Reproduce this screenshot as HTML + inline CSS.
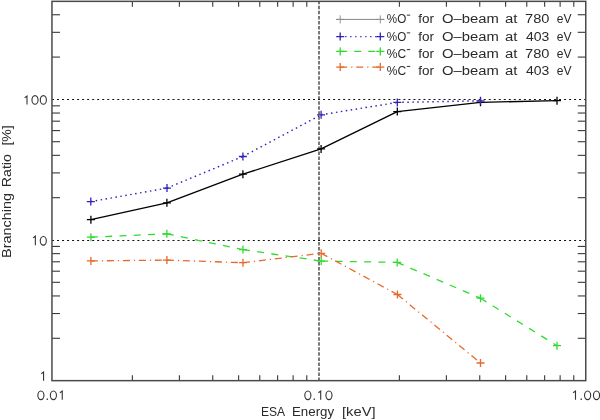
<!DOCTYPE html><html><head><meta charset="utf-8"><style>html,body{margin:0;padding:0;background:#fff;overflow:hidden}svg{display:block;will-change:transform}text{font-family:"Liberation Sans",sans-serif;fill:#2a2a2a}</style></head><body>
<svg width="600" height="420" viewBox="0 0 600 420">
<rect width="600" height="420" fill="#fff"/>
<g stroke="#111" stroke-width="1.15" stroke-dasharray="2 3.02" fill="none">
<line x1="52.00" y1="99.50" x2="585.75" y2="99.50"/>
<line x1="52.00" y1="240.50" x2="585.75" y2="240.50"/>
<line x1="319.00" y1="1.35" x2="319.00" y2="380.65" stroke-dasharray="3.5 1.522" stroke-dashoffset="0.52" stroke="#222" stroke-width="1.2"/>
</g>
<g stroke="#383838" stroke-width="1.1" fill="none">
<line x1="132.38" y1="380.65" x2="132.38" y2="375.15"/>
<line x1="132.38" y1="1.35" x2="132.38" y2="6.85"/>
<line x1="179.39" y1="380.65" x2="179.39" y2="375.15"/>
<line x1="179.39" y1="1.35" x2="179.39" y2="6.85"/>
<line x1="212.75" y1="380.65" x2="212.75" y2="375.15"/>
<line x1="212.75" y1="1.35" x2="212.75" y2="6.85"/>
<line x1="238.62" y1="380.65" x2="238.62" y2="375.15"/>
<line x1="238.62" y1="1.35" x2="238.62" y2="6.85"/>
<line x1="259.77" y1="380.65" x2="259.77" y2="375.15"/>
<line x1="259.77" y1="1.35" x2="259.77" y2="6.85"/>
<line x1="277.64" y1="380.65" x2="277.64" y2="375.15"/>
<line x1="277.64" y1="1.35" x2="277.64" y2="6.85"/>
<line x1="293.13" y1="380.65" x2="293.13" y2="375.15"/>
<line x1="293.13" y1="1.35" x2="293.13" y2="6.85"/>
<line x1="306.78" y1="380.65" x2="306.78" y2="375.15"/>
<line x1="306.78" y1="1.35" x2="306.78" y2="6.85"/>
<line x1="399.38" y1="380.65" x2="399.38" y2="375.15"/>
<line x1="399.38" y1="1.35" x2="399.38" y2="6.85"/>
<line x1="446.39" y1="380.65" x2="446.39" y2="375.15"/>
<line x1="446.39" y1="1.35" x2="446.39" y2="6.85"/>
<line x1="479.75" y1="380.65" x2="479.75" y2="375.15"/>
<line x1="479.75" y1="1.35" x2="479.75" y2="6.85"/>
<line x1="505.62" y1="380.65" x2="505.62" y2="375.15"/>
<line x1="505.62" y1="1.35" x2="505.62" y2="6.85"/>
<line x1="526.77" y1="380.65" x2="526.77" y2="375.15"/>
<line x1="526.77" y1="1.35" x2="526.77" y2="6.85"/>
<line x1="544.64" y1="380.65" x2="544.64" y2="375.15"/>
<line x1="544.64" y1="1.35" x2="544.64" y2="6.85"/>
<line x1="560.13" y1="380.65" x2="560.13" y2="375.15"/>
<line x1="560.13" y1="1.35" x2="560.13" y2="6.85"/>
<line x1="573.78" y1="380.65" x2="573.78" y2="375.15"/>
<line x1="573.78" y1="1.35" x2="573.78" y2="6.85"/>
<line x1="51.95" y1="338.28" x2="59.95" y2="338.28"/>
<line x1="585.75" y1="338.28" x2="577.75" y2="338.28"/>
<line x1="51.95" y1="313.52" x2="59.95" y2="313.52"/>
<line x1="585.75" y1="313.52" x2="577.75" y2="313.52"/>
<line x1="51.95" y1="295.95" x2="59.95" y2="295.95"/>
<line x1="585.75" y1="295.95" x2="577.75" y2="295.95"/>
<line x1="51.95" y1="282.32" x2="59.95" y2="282.32"/>
<line x1="585.75" y1="282.32" x2="577.75" y2="282.32"/>
<line x1="51.95" y1="271.19" x2="59.95" y2="271.19"/>
<line x1="585.75" y1="271.19" x2="577.75" y2="271.19"/>
<line x1="51.95" y1="261.78" x2="59.95" y2="261.78"/>
<line x1="585.75" y1="261.78" x2="577.75" y2="261.78"/>
<line x1="51.95" y1="253.63" x2="59.95" y2="253.63"/>
<line x1="585.75" y1="253.63" x2="577.75" y2="253.63"/>
<line x1="51.95" y1="246.43" x2="59.95" y2="246.43"/>
<line x1="585.75" y1="246.43" x2="577.75" y2="246.43"/>
<line x1="51.95" y1="197.68" x2="59.95" y2="197.68"/>
<line x1="585.75" y1="197.68" x2="577.75" y2="197.68"/>
<line x1="51.95" y1="172.92" x2="59.95" y2="172.92"/>
<line x1="585.75" y1="172.92" x2="577.75" y2="172.92"/>
<line x1="51.95" y1="155.35" x2="59.95" y2="155.35"/>
<line x1="585.75" y1="155.35" x2="577.75" y2="155.35"/>
<line x1="51.95" y1="141.72" x2="59.95" y2="141.72"/>
<line x1="585.75" y1="141.72" x2="577.75" y2="141.72"/>
<line x1="51.95" y1="130.59" x2="59.95" y2="130.59"/>
<line x1="585.75" y1="130.59" x2="577.75" y2="130.59"/>
<line x1="51.95" y1="121.18" x2="59.95" y2="121.18"/>
<line x1="585.75" y1="121.18" x2="577.75" y2="121.18"/>
<line x1="51.95" y1="113.03" x2="59.95" y2="113.03"/>
<line x1="585.75" y1="113.03" x2="577.75" y2="113.03"/>
<line x1="51.95" y1="105.83" x2="59.95" y2="105.83"/>
<line x1="585.75" y1="105.83" x2="577.75" y2="105.83"/>
<line x1="51.95" y1="57.08" x2="59.95" y2="57.08"/>
<line x1="585.75" y1="57.08" x2="577.75" y2="57.08"/>
<line x1="51.95" y1="32.32" x2="59.95" y2="32.32"/>
<line x1="585.75" y1="32.32" x2="577.75" y2="32.32"/>
<line x1="51.95" y1="14.75" x2="59.95" y2="14.75"/>
<line x1="585.75" y1="14.75" x2="577.75" y2="14.75"/>
</g>
<rect x="51.95" y="1.35" width="533.80" height="379.30" fill="none" stroke="#4a4a4a" stroke-width="1.5"/>
<path d="M90.90 219.70 L166.90 202.80 L242.90 174.20 L321.10 148.90 L397.30 111.60 L480.50 102.30 L557.00 100.70" stroke="#000000" stroke-width="1.35" fill="none" stroke-linejoin="round"/>
<path d="M86.90 219.70H94.90M90.90 215.70V223.70" stroke="#000000" stroke-width="1.30" fill="none"/>
<path d="M162.90 202.80H170.90M166.90 198.80V206.80" stroke="#000000" stroke-width="1.30" fill="none"/>
<path d="M238.90 174.20H246.90M242.90 170.20V178.20" stroke="#000000" stroke-width="1.30" fill="none"/>
<path d="M317.10 148.90H325.10M321.10 144.90V152.90" stroke="#000000" stroke-width="1.30" fill="none"/>
<path d="M393.30 111.60H401.30M397.30 107.60V115.60" stroke="#000000" stroke-width="1.30" fill="none"/>
<path d="M476.50 102.30H484.50M480.50 98.30V106.30" stroke="#000000" stroke-width="1.30" fill="none"/>
<path d="M553.00 100.70H561.00M557.00 96.70V104.70" stroke="#000000" stroke-width="1.30" fill="none"/>
<path d="M90.80 201.60L167.00 188.10 M167.00 188.10L242.90 156.50 M242.90 156.50L321.10 114.80 M321.10 114.80L397.30 102.40 M397.30 102.40L480.50 100.80" stroke="#3122bc" stroke-width="1.45" fill="none" stroke-linejoin="round" stroke-dasharray="1.5 3.5"/>
<path d="M86.80 201.60H94.80M90.80 197.60V205.60" stroke="#3122bc" stroke-width="1.30" fill="none"/>
<path d="M163.00 188.10H171.00M167.00 184.10V192.10" stroke="#3122bc" stroke-width="1.30" fill="none"/>
<path d="M238.90 156.50H246.90M242.90 152.50V160.50" stroke="#3122bc" stroke-width="1.30" fill="none"/>
<path d="M317.10 114.80H325.10M321.10 110.80V118.80" stroke="#3122bc" stroke-width="1.30" fill="none"/>
<path d="M393.30 102.40H401.30M397.30 98.40V106.40" stroke="#3122bc" stroke-width="1.30" fill="none"/>
<path d="M476.50 100.80H484.50M480.50 96.80V104.80" stroke="#3122bc" stroke-width="1.30" fill="none"/>
<path d="M90.90 237.20L166.90 233.80 M166.90 233.80L243.00 249.60 M243.00 249.60L321.20 261.10 M321.20 261.10L397.20 262.40 M397.20 262.40L480.50 298.20 M480.50 298.20L557.00 345.70" stroke="#2edc2e" stroke-width="1.30" fill="none" stroke-linejoin="round" stroke-dasharray="7 7.3"/>
<path d="M86.90 237.20H94.90M90.90 233.20V241.20" stroke="#2edc2e" stroke-width="1.30" fill="none"/>
<path d="M162.90 233.80H170.90M166.90 229.80V237.80" stroke="#2edc2e" stroke-width="1.30" fill="none"/>
<path d="M239.00 249.60H247.00M243.00 245.60V253.60" stroke="#2edc2e" stroke-width="1.30" fill="none"/>
<path d="M317.20 261.10H325.20M321.20 257.10V265.10" stroke="#2edc2e" stroke-width="1.30" fill="none"/>
<path d="M393.20 262.40H401.20M397.20 258.40V266.40" stroke="#2edc2e" stroke-width="1.30" fill="none"/>
<path d="M476.50 298.20H484.50M480.50 294.20V302.20" stroke="#2edc2e" stroke-width="1.30" fill="none"/>
<path d="M553.00 345.70H561.00M557.00 341.70V349.70" stroke="#2edc2e" stroke-width="1.30" fill="none"/>
<path d="M90.90 260.90L166.90 260.10 M166.90 260.10L243.00 262.70 M243.00 262.70L321.20 253.30 M321.20 253.30L397.40 294.50 M397.40 294.50L480.50 363.00" stroke="#e8682a" stroke-width="1.30" fill="none" stroke-linejoin="round" stroke-dasharray="7 4 1.2 3.8"/>
<path d="M86.90 260.90H94.90M90.90 256.90V264.90" stroke="#e8682a" stroke-width="1.30" fill="none"/>
<path d="M162.90 260.10H170.90M166.90 256.10V264.10" stroke="#e8682a" stroke-width="1.30" fill="none"/>
<path d="M239.00 262.70H247.00M243.00 258.70V266.70" stroke="#e8682a" stroke-width="1.30" fill="none"/>
<path d="M317.20 253.30H325.20M321.20 249.30V257.30" stroke="#e8682a" stroke-width="1.30" fill="none"/>
<path d="M393.40 294.50H401.40M397.40 290.50V298.50" stroke="#e8682a" stroke-width="1.30" fill="none"/>
<path d="M476.50 363.00H484.50M480.50 359.00V367.00" stroke="#e8682a" stroke-width="1.30" fill="none"/>
<line x1="336.20" y1="19.40" x2="384.30" y2="19.40" stroke="#808080" stroke-width="0.95"/>
<path d="M336.20 19.40H344.20M340.20 15.40V23.40" stroke="#909090" stroke-width="1.00" fill="none"/>
<path d="M376.30 19.40H384.30M380.30 15.40V23.40" stroke="#909090" stroke-width="1.00" fill="none"/>
<line x1="340.20" y1="36.60" x2="380.30" y2="36.60" stroke="#3122bc" stroke-width="1.45" stroke-dasharray="1.3 3.7"/>
<path d="M336.20 36.60H344.20M340.20 32.60V40.60" stroke="#3122bc" stroke-width="1.30" fill="none"/>
<path d="M376.30 36.60H384.30M380.30 32.60V40.60" stroke="#3122bc" stroke-width="1.30" fill="none"/>
<line x1="340.20" y1="51.40" x2="380.30" y2="51.40" stroke="#2edc2e" stroke-width="1.3" stroke-dasharray="7 7"/>
<path d="M336.20 51.40H344.20M340.20 47.40V55.40" stroke="#2edc2e" stroke-width="1.30" fill="none"/>
<path d="M376.30 51.40H384.30M380.30 47.40V55.40" stroke="#2edc2e" stroke-width="1.30" fill="none"/>
<line x1="340.20" y1="67.10" x2="380.30" y2="67.10" stroke="#e8682a" stroke-width="1.3" stroke-dasharray="7 4 1.2 3.8"/>
<path d="M336.20 67.10H344.20M340.20 63.10V71.10" stroke="#e8682a" stroke-width="1.30" fill="none"/>
<path d="M376.30 67.10H384.30M380.30 63.10V71.10" stroke="#e8682a" stroke-width="1.30" fill="none"/>
<text x="261.00" y="416.30" font-size="13.50" textLength="24.15" lengthAdjust="spacingAndGlyphs">ESA</text>
<text x="292.00" y="416.30" font-size="13.50" textLength="42.14" lengthAdjust="spacingAndGlyphs">Energy</text>
<text x="342.00" y="416.30" font-size="13.50" textLength="33.60" lengthAdjust="spacingAndGlyphs">[keV]</text>
<text x="0" y="0" font-size="13.50" textLength="65.12" lengthAdjust="spacingAndGlyphs" transform="translate(10.70,258.00) rotate(-90)">Branching</text>
<text x="0" y="0" font-size="13.50" textLength="33.02" lengthAdjust="spacingAndGlyphs" transform="translate(10.70,187.20) rotate(-90)">Ratio</text>
<text x="0" y="0" font-size="13.50" textLength="20.26" lengthAdjust="spacingAndGlyphs" transform="translate(10.70,145.60) rotate(-90)">[%]</text>
<text x="386.80" y="23.30" font-size="12.00" textLength="19.41" lengthAdjust="spacingAndGlyphs">%O</text>
<text x="418.20" y="23.30" font-size="12.00" textLength="15.80" lengthAdjust="spacingAndGlyphs">for</text>
<text x="442.00" y="23.30" font-size="12.00" textLength="56.72" lengthAdjust="spacingAndGlyphs">O&#8211;beam</text>
<text x="505.00" y="23.30" font-size="12.00" textLength="12.44" lengthAdjust="spacingAndGlyphs">at</text>
<text x="525.00" y="23.30" font-size="12.00" textLength="24.40" lengthAdjust="spacingAndGlyphs">780</text>
<text x="556.80" y="23.30" font-size="12.00" textLength="14.78" lengthAdjust="spacingAndGlyphs">eV</text>
<text x="386.80" y="41.00" font-size="12.00" textLength="19.41" lengthAdjust="spacingAndGlyphs">%O</text>
<text x="418.20" y="41.00" font-size="12.00" textLength="15.80" lengthAdjust="spacingAndGlyphs">for</text>
<text x="442.00" y="41.00" font-size="12.00" textLength="56.72" lengthAdjust="spacingAndGlyphs">O&#8211;beam</text>
<text x="505.00" y="41.00" font-size="12.00" textLength="12.44" lengthAdjust="spacingAndGlyphs">at</text>
<text x="526.00" y="41.00" font-size="12.00" textLength="23.38" lengthAdjust="spacingAndGlyphs">403</text>
<text x="556.80" y="41.00" font-size="12.00" textLength="14.78" lengthAdjust="spacingAndGlyphs">eV</text>
<text x="386.80" y="57.70" font-size="12.00" textLength="19.35" lengthAdjust="spacingAndGlyphs">%C</text>
<text x="418.20" y="57.70" font-size="12.00" textLength="15.80" lengthAdjust="spacingAndGlyphs">for</text>
<text x="442.00" y="57.70" font-size="12.00" textLength="56.72" lengthAdjust="spacingAndGlyphs">O&#8211;beam</text>
<text x="505.00" y="57.70" font-size="12.00" textLength="12.44" lengthAdjust="spacingAndGlyphs">at</text>
<text x="525.00" y="57.70" font-size="12.00" textLength="24.40" lengthAdjust="spacingAndGlyphs">780</text>
<text x="556.80" y="57.70" font-size="12.00" textLength="14.78" lengthAdjust="spacingAndGlyphs">eV</text>
<text x="386.80" y="74.60" font-size="12.00" textLength="19.35" lengthAdjust="spacingAndGlyphs">%C</text>
<text x="418.20" y="74.60" font-size="12.00" textLength="15.80" lengthAdjust="spacingAndGlyphs">for</text>
<text x="442.00" y="74.60" font-size="12.00" textLength="56.72" lengthAdjust="spacingAndGlyphs">O&#8211;beam</text>
<text x="505.00" y="74.60" font-size="12.00" textLength="12.44" lengthAdjust="spacingAndGlyphs">at</text>
<text x="526.00" y="74.60" font-size="12.00" textLength="23.38" lengthAdjust="spacingAndGlyphs">403</text>
<text x="556.80" y="74.60" font-size="12.00" textLength="14.78" lengthAdjust="spacingAndGlyphs">eV</text>
<ellipse cx="40.90" cy="395.30" rx="3.05" ry="4.35" fill="none" stroke="#333" stroke-width="1.10"/>
<rect x="46.55" y="398.50" width="1.4" height="1.4" fill="#333"/>
<ellipse cx="53.40" cy="395.30" rx="3.05" ry="4.35" fill="none" stroke="#333" stroke-width="1.10"/>
<path d="M59.95 392.80L62.25 391.10V399.80" fill="none" stroke="#333" stroke-width="1.10" stroke-linejoin="miter"/>
<ellipse cx="307.85" cy="395.30" rx="3.05" ry="4.35" fill="none" stroke="#333" stroke-width="1.10"/>
<rect x="313.60" y="398.50" width="1.4" height="1.4" fill="#333"/>
<path d="M318.40 392.80L320.70 391.10V399.80" fill="none" stroke="#333" stroke-width="1.10" stroke-linejoin="miter"/>
<ellipse cx="328.95" cy="395.30" rx="3.05" ry="4.35" fill="none" stroke="#333" stroke-width="1.10"/>
<path d="M573.20 392.80L575.50 391.10V399.80" fill="none" stroke="#333" stroke-width="1.10" stroke-linejoin="miter"/>
<rect x="580.55" y="398.50" width="1.4" height="1.4" fill="#333"/>
<ellipse cx="587.60" cy="395.30" rx="3.05" ry="4.35" fill="none" stroke="#333" stroke-width="1.10"/>
<ellipse cx="596.50" cy="395.30" rx="3.05" ry="4.35" fill="none" stroke="#333" stroke-width="1.10"/>
<path d="M24.70 97.70L27.00 96.00V104.60" fill="none" stroke="#333" stroke-width="1.10" stroke-linejoin="miter"/>
<ellipse cx="35.00" cy="99.95" rx="3.05" ry="4.35" fill="none" stroke="#333" stroke-width="1.10"/>
<ellipse cx="43.35" cy="99.95" rx="3.05" ry="4.35" fill="none" stroke="#333" stroke-width="1.10"/>
<path d="M33.06 237.90L35.36 236.20V245.30" fill="none" stroke="#333" stroke-width="1.10" stroke-linejoin="miter"/>
<ellipse cx="43.30" cy="240.80" rx="3.05" ry="4.35" fill="none" stroke="#333" stroke-width="1.10"/>
<path d="M41.27 373.80L43.57 372.10V380.70" fill="none" stroke="#333" stroke-width="1.10" stroke-linejoin="miter"/>
<rect x="406.8" y="14.60" width="3.4" height="1.1" fill="#444"/>
<rect x="406.8" y="32.30" width="3.4" height="1.1" fill="#444"/>
<rect x="406.8" y="49.00" width="3.4" height="1.1" fill="#444"/>
<rect x="406.8" y="65.90" width="3.4" height="1.1" fill="#444"/>
</svg></body></html>
